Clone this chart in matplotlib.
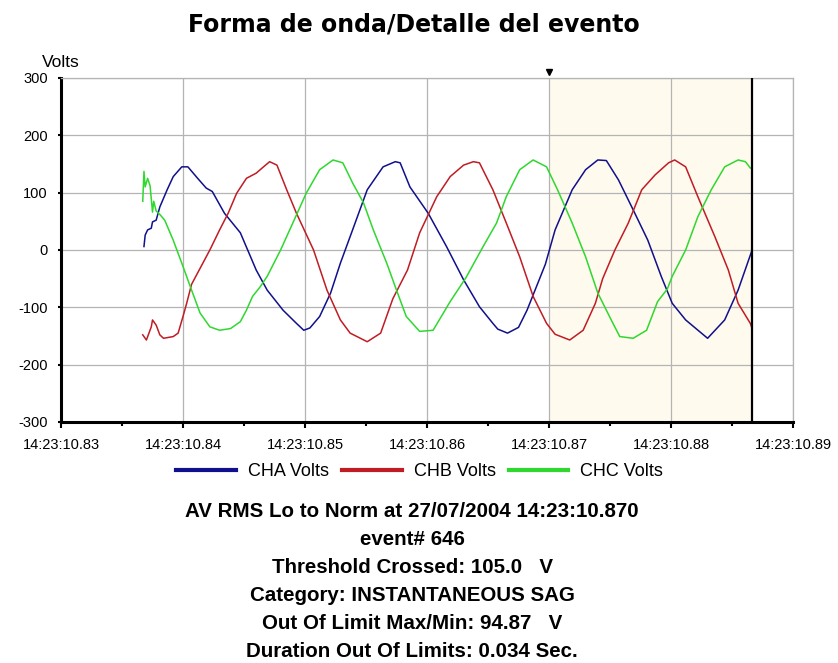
import numpy as np
import matplotlib
matplotlib.use('Agg')
import matplotlib.pyplot as plt
import matplotlib.font_manager as fm
from matplotlib.ticker import MultipleLocator, FuncFormatter

plt.rcParams['axes.unicode_minus'] = False

# seconds after 14:23:00, volts
cha_t = [10.8368, 10.8369, 10.8371, 10.8374, 10.8375, 10.8378, 10.8381, 10.8387,
         10.8392, 10.8399, 10.8404, 10.8412, 10.8419, 10.8424, 10.8434, 10.8447,
         10.8460, 10.8469, 10.8482, 10.8493, 10.8499, 10.8504, 10.8512, 10.8521,
         10.8529, 10.8539, 10.8551, 10.8564, 10.8574, 10.8578, 10.8586, 10.8601,
         10.8616, 10.8630, 10.8643, 10.8654, 10.8658, 10.8666, 10.8675, 10.8682,
         10.8697, 10.8705, 10.8719, 10.8730, 10.8740, 10.8747, 10.8757, 10.8769,
         10.8781, 10.8792, 10.8801, 10.8812, 10.8830, 10.8844, 10.8855, 10.8866]
cha_v = [6, 26, 35, 38, 49, 52, 75, 105,
         128, 145, 145, 125, 108, 102, 64, 30,
         -35, -70, -105, -128, -140, -136, -116, -75,
         -23, 35, 105, 145, 154, 152, 110, 64,
         6, -52, -99, -128, -138, -145, -135, -105,
         -25, 35, 105, 140, 157, 156, 122, 70,
         17, -46, -93, -122, -154, -122, -70, -3]

chb_t = [10.8367, 10.8370, 10.8374, 10.8375, 10.8378, 10.8381, 10.8384, 10.8392,
         10.8396, 10.8400, 10.8403, 10.8407, 10.8414, 10.8422, 10.8430, 10.8437,
         10.8444, 10.8452, 10.8460, 10.8466, 10.8471, 10.8477, 10.8485, 10.8493,
         10.8507, 10.8518, 10.8529, 10.8537, 10.8551, 10.8562, 10.8572, 10.8584,
         10.8594, 10.8608, 10.8619, 10.8630, 10.8638, 10.8643, 10.8654, 10.8665,
         10.8676, 10.8687, 10.8698, 10.8705, 10.8717, 10.8728, 10.8738, 10.8744,
         10.8754, 10.8765, 10.8776, 10.8787, 10.8798, 10.8803, 10.8812, 10.8822,
         10.8836, 10.8847, 10.8855, 10.8865, 10.8866]
chb_v = [-148, -157, -134, -122, -131, -148, -154, -151,
         -145, -116, -93, -60, -32, 0, 35, 64,
         99, 125, 134, 145, 154, 148, 105, 64,
         0, -70, -122, -145, -160, -145, -85, -35,
         30, 93, 128, 148, 154, 152, 105, 47,
         -12, -81, -128, -147, -157, -140, -93, -50,
         0, 47, 105, 131, 152, 157, 145, 93,
         23, -35, -93, -128, -134]

chc_t = [10.8367, 10.8368, 10.8369, 10.8371, 10.8373, 10.8375, 10.8376, 10.8378,
         10.8381, 10.8385, 10.8392, 10.8399, 10.8406, 10.8414, 10.8422, 10.8430,
         10.8439, 10.8447, 10.8452, 10.8457, 10.8463, 10.8469, 10.8480, 10.8490,
         10.8501, 10.8512, 10.8523, 10.8531, 10.8539, 10.8548, 10.8556, 10.8567,
         10.8575, 10.8583, 10.8594, 10.8605, 10.8619, 10.8632, 10.8646, 10.8657,
         10.8665, 10.8676, 10.8687, 10.8698, 10.8707, 10.8719, 10.8730, 10.8740,
         10.8751, 10.8758, 10.8769, 10.8780, 10.8789, 10.8797, 10.8801, 10.8812,
         10.8822, 10.8833, 10.8844, 10.8855, 10.8861, 10.8865]
chc_v = [85, 137, 110, 125, 112, 66, 85, 68,
         62, 52, 17, -23, -64, -110, -134, -140,
         -137, -125, -105, -81, -65, -46, 0, 47,
         99, 140, 157, 152, 117, 82, 35, -23,
         -70, -116, -142, -140, -90, -48, 6, 47,
         93, 140, 157, 145, 105, 47, -12, -75,
         -122, -151, -154, -140, -90, -68, -46, 0,
         58, 105, 145, 157, 154, 143]

series = [('CHA Volts', cha_t, cha_v, '#10108c'),
          ('CHB Volts', chb_t, chb_v, '#c01c24'),
          ('CHC Volts', chc_t, chc_v, '#2fd82f')]

trigger_t = 10.87
window_end = 10.8866

info_lines = ['AV RMS Lo to Norm at 27/07/2004 14:23:10.870',
              'event# 646',
              'Threshold Crossed: 105.0   V',
              'Category: INSTANTANEOUS SAG',
              'Out Of Limit Max/Min: 94.87   V',
              'Duration Out Of Limits: 0.034 Sec.']

installed = {f.name for f in fm.fontManager.ttflist}
if 'Liberation Sans Narrow' in installed:
    tick_font, tick_size = 'Liberation Sans Narrow', 12
else:
    tick_font, tick_size = 'Liberation Sans', 10.5

fig = plt.figure(figsize=(8.38, 6.63), dpi=100)
fig.patch.set_facecolor('white')
ax = fig.add_axes([0.0728, 0.3635, 0.8735, 0.5189])

ax.set_xlim(10.83, 10.89)
ax.set_ylim(-300, 300)

# zona de evento sombreada + cursor final
ax.axvspan(trigger_t, window_end, color='#fffaee', zorder=0, lw=0)
ax.axvline(window_end, color='black', lw=1.6, zorder=4)

for name, t, v, c in series:
    ax.plot(t, v, color=c, lw=1.1, label=name, zorder=3)

ax.plot([trigger_t], [311], marker='v', color='black', ms=4.5,
        clip_on=False, zorder=5)

ax.xaxis.set_major_locator(MultipleLocator(0.01))
ax.xaxis.set_minor_locator(MultipleLocator(0.005))
ax.yaxis.set_major_locator(MultipleLocator(100))
ax.xaxis.set_major_formatter(FuncFormatter(lambda v, p: '14:23:%.2f' % v))
ax.grid(True, which='major', color='#b4b4b4', lw=0.9, zorder=1)
ax.set_axisbelow(True)

for side in ('top', 'right'):
    ax.spines[side].set_color('#b4b4b4')
    ax.spines[side].set_linewidth(0.9)
for side in ('left', 'bottom'):
    ax.spines[side].set_color('black')
    ax.spines[side].set_linewidth(2.2)

ax.tick_params(axis='x', which='major', length=4.5, width=1.5, pad=7)
ax.tick_params(axis='x', which='minor', length=3, width=1.5)
ax.tick_params(axis='y', length=2.5, width=1.5, pad=7)
for lab in ax.get_xticklabels() + ax.get_yticklabels():
    lab.set_fontfamily(tick_font)
    lab.set_fontsize(tick_size)

fig.text(42 / 838, 1 - 67 / 663, 'Volts', fontfamily='Liberation Sans',
         fontsize=12.5, ha='left', va='baseline')

fig.text(0.494, 1 - 32 / 663, 'Forma de onda/Detalle del evento',
         fontfamily='DejaVu Sans', fontweight='bold', fontsize=17,
         ha='center', va='baseline')

fig.legend(loc='center', bbox_to_anchor=(0.501, 1 - 472 / 663), ncol=3,
           frameon=False, handlelength=3.3, handletextpad=0.67,
           columnspacing=0.72, prop={'family': 'Liberation Sans', 'size': 13})
for line in fig.legends[0].get_lines():
    line.set_linewidth(3)

for i, txt in enumerate(info_lines):
    fig.text(0.492, 1 - (517 + 28 * i) / 663, txt, fontfamily='Liberation Sans',
             fontweight='bold', fontsize=14.8, ha='center', va='baseline')

fig.savefig('out.png', dpi=100, facecolor='white')
